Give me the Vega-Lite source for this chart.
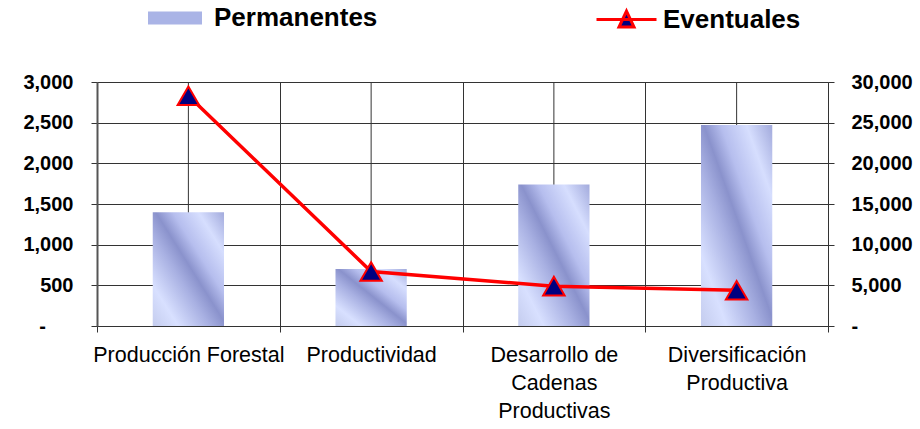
{
  "$schema": "https://vega.github.io/schema/vega-lite/v6.json",
  "autosize": "none",
  "width": 731,
  "height": 244,
  "padding": {"left": 97, "top": 82, "right": 92, "bottom": 103},
  "background": "white",
  "config": {"view": {"stroke": null}, "font": "Liberation Sans"},
  "data": {"values": [
    {"programa": "Producción Forestal", "permanentes": 1400, "eventuales": 28300},
    {"programa": "Productividad", "permanentes": 700, "eventuales": 6700},
    {"programa": "Desarrollo de Cadenas Productivas", "permanentes": 1740, "eventuales": 4900},
    {"programa": "Diversificación Productiva", "permanentes": 2470, "eventuales": 4400}
  ]},
  "encoding": {
    "x": {"field": "programa", "type": "nominal", "sort": null, "title": null,
      "scale": {"paddingInner": 0, "paddingOuter": 0},
      "axis": {"tickBand": "extent", "labelAngle": 0, "labelAlign": "center", "labelFontSize": 21.5, "labelColor": "#000000",
        "labelFont": "Liberation Sans", "labelPadding": 12, "labelLineHeight": 28, "labelBaseline": "top", "labelLimit": 300,
        "grid": true, "gridColor": "#333333", "domainColor": "#333333", "tickColor": "#333333", "tickSize": 6,
        "labelExpr": "datum.value == 'Desarrollo de Cadenas Productivas' ? ['Desarrollo de','Cadenas','Productivas'] : datum.value == 'Diversificación Productiva' ? ['Diversificación','Productiva'] : datum.value"}}
  },
  "layer": [
    {
      "layer": [
        {"mark": {"type": "rule", "color": "#333333", "strokeWidth": 1}, "encoding": {}},
        {
          "mark": {"type": "bar", "width": {"band": 0.39}},
          "encoding": {
            "y": {"field": "permanentes", "type": "quantitative", "title": null,
              "scale": {"domain": [0, 3000], "nice": false},
              "axis": {"orient": "left", "values": [0, 500, 1000, 1500, 2000, 2500, 3000],
                "labelExpr": "datum.value == 0 ? '-' : format(datum.value, ',')",
                "labelFontSize": 20, "labelFontWeight": "bold", "labelColor": "#000000",
                "labelAlign": {"condition": {"test": "datum.value == 0", "value": "center"}, "value": "right"},
                "labelPadding": {"condition": {"test": "datum.value == 0", "value": 49}, "value": 18},
                "grid": true, "gridColor": "#333333", "domainColor": "#555555", "domainWidth": 2,
                "tickColor": "#333333", "tickSize": 6}},
            "fill": {"value": {"gradient": "linear", "x1": 0, "y1": 1, "x2": 1, "y2": 0, "stops": [
              {"offset": 0, "color": "#c4ccee"},
              {"offset": 0.18, "color": "#d8e0ff"},
              {"offset": 0.4, "color": "#a8b0e2"},
              {"offset": 0.52, "color": "#8a92cc"},
              {"offset": 0.64, "color": "#b6beee"},
              {"offset": 0.82, "color": "#d6defe"},
              {"offset": 1, "color": "#a2aadc"}]}}
          }
        },
        {
          "mark": {"type": "bar", "width": {"band": 0.39}, "opacity": 0},
          "encoding": {
            "y": {"field": "permanentes", "type": "quantitative", "title": null},
            "fill": {"datum": "Permanentes", "scale": {"range": ["#aab4e6"]},
              "legend": {"title": null, "orient": "none", "legendX": 51, "legendY": -91,
                "symbolType": "M-1,-0.24H1V0.24H-1Z", "symbolSize": 2916, "symbolStrokeWidth": 0,
                "labelFontSize": 26, "labelFontWeight": "bold", "labelColor": "#000000", "labelOffset": 12,
                "labelFont": "Liberation Sans", "labelLimit": 400,
                "encode": {"symbols": {"update": {"opacity": {"value": 1},
                  "fill": {"value": {"gradient": "linear", "x1": 0, "y1": 0, "x2": 1, "y2": 1, "stops": [
                    {"offset": 0, "color": "#c8d0f4"}, {"offset": 0.5, "color": "#9aa2d6"}, {"offset": 1, "color": "#d6defe"}]}}}}}}}
          }
        }
      ]
    },
    {
      "layer": [
        {
          "mark": {"type": "line", "strokeWidth": 3.5},
          "encoding": {
            "y": {"field": "eventuales", "type": "quantitative", "title": null,
              "scale": {"domain": [0, 30000], "nice": false},
              "axis": {"orient": "right", "values": [0, 5000, 10000, 15000, 20000, 25000, 30000],
                "labelExpr": "datum.value == 0 ? '-' : format(datum.value, ',')",
                "labelFontSize": 20, "labelFontWeight": "bold", "labelColor": "#000000", "labelPadding": 17,
                "grid": false, "domainColor": "#333333", "tickColor": "#333333", "tickSize": 6}},
            "stroke": {"datum": "Eventuales", "scale": {"range": ["#ff0000"]},
              "legend": {"title": null, "orient": "none", "legendX": 498, "legendY": -94,
                "symbolType": "M-1,0H1M0,-0.28L0.25,0.25L-0.25,0.25Z", "symbolSize": 3600, "symbolStrokeWidth": 3,
                "labelFontSize": 26, "labelFontWeight": "bold", "labelColor": "#000000", "labelOffset": 5,
                "labelFont": "Liberation Sans", "labelLimit": 400,
                "encode": {"symbols": {"update": {"fill": {"value": "#000080"}, "fillOpacity": {"value": 1}}}}}}
          }
        },
        {
          "mark": {"type": "point", "shape": "triangle-up", "filled": true, "size": 460,
            "fill": "#000080", "stroke": "#ff0000", "strokeWidth": 2, "opacity": 1},
          "encoding": {
            "y": {"field": "eventuales", "type": "quantitative", "title": null}
          }
        }
      ]
    }
  ],
  "resolve": {"scale": {"y": "independent"}}
}
